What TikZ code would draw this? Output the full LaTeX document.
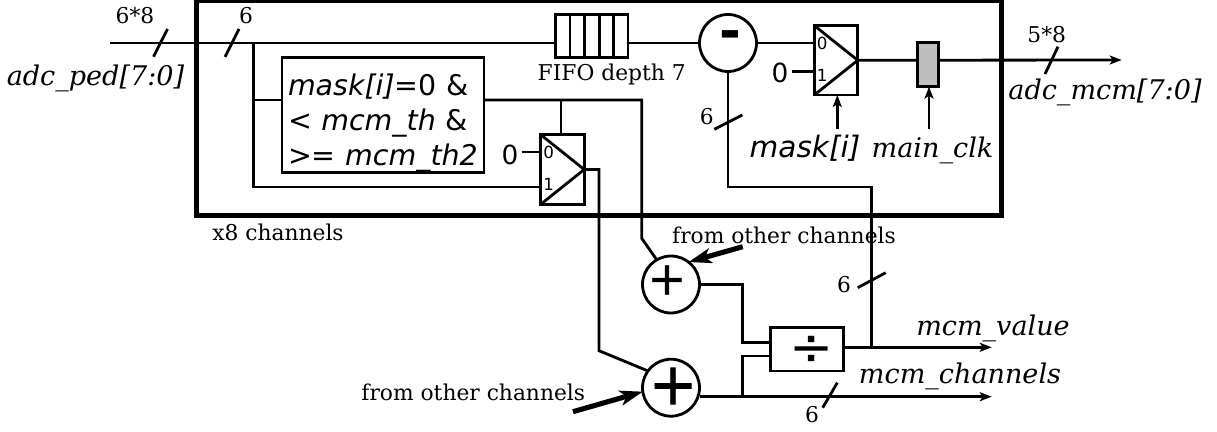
\documentclass[tikz,border=0pt]{standalone}
\usepackage{fontspec}
\setmainfont{DejaVu Serif}
\setsansfont{DejaVu Sans}
\newfontfamily\signfont[FakeBold=1.2]{DejaVu Sans}
\usetikzlibrary{calc,arrows.meta}
\definecolor{regfill}{RGB}{190,190,190}

\tikzset{
  wire/.style={draw=black, line width=1.6pt, line join=miter},
  flow/.style={wire, -{Stealth[length=0.24cm,width=0.18cm,inset=0.06cm]}},
  fatflow/.style={draw=black, line width=2.9pt, -{Stealth[length=0.46cm,width=0.3cm,inset=0.12cm]}},
  tick/.style={draw=black, line width=1.6pt},
  cell/.style={draw=black, line width=1.6pt, fill=white, rectangle, inner sep=0pt, outer sep=0pt},
  opcircle/.style={draw=black, line width=1.6pt, fill=white, circle, inner sep=0pt, outer sep=0pt, minimum size=1.14cm},
  serifnote/.style={inner sep=0pt, font=\fontsize{12.4}{14}\selectfont},
  busname/.style={inner sep=0pt, font=\fontsize{15.4}{17}\selectfont\itshape},
  portmark/.style={inner sep=0pt, font=\sffamily\fontsize{9.5}{10}\selectfont},
  zeromark/.style={inner sep=0pt, font=\sffamily\fontsize{15}{17}\selectfont}
}

\begin{document}
\begin{tikzpicture}[x=0.02cm,y=-0.02cm]

% Each mux is specified as:
% \muxcell{name}{x}{y}
\newcommand{\muxcell}[3]{%
  \node[cell, minimum width=0.87cm, minimum height=1.39cm] (#1) at (#2,#3) {};
  \draw[wire] (#1.north west) -- (#1.east) -- (#1.south west);
  \node[portmark] (#1zero) at ($(#1.west)+(8,-17)$) {0};
  \node[portmark] (#1one) at ($(#1.west)+(8,15)$) {1};
}

% Page size.
\useasboundingbox (0,0) rectangle (1217,432);

% Outer channel frame.
\draw[black, line width=3.4pt] (196.5,0) rectangle (1001.5,215.5);

% Blocks.
\node[cell, minimum width=1.454cm, minimum height=0.86cm] (fifo) at (591.7,35.8) {};
\foreach \v in {1,2,3,4}{
  \draw[wire] ($(fifo.north west)+(14.6*\v,0)$) -- ($(fifo.south west)+(14.6*\v,0)$);
}
\node[opcircle] (sub) at (728,43) {};
\node[inner sep=0pt, font=\sffamily\bfseries\fontsize{30}{30}\selectfont] (subsign) at (730.5,40) {-};
\muxcell{muxa}{836}{60.3}
\muxcell{muxb}{562.5}{169.5}
\node[cell, minimum width=4.04cm, minimum height=2.31cm] (maskbox) at (383,115) {};
\node[inner sep=0pt, align=left, text width=3.8cm, font=\sffamily\fontsize{16.2}{20}\selectfont]
  (masktext) at (383,123)
  {\textit{mask[i]}=0 \&\\< \textit{mcm\_th} \&\\>= \textit{mcm\_th2}};
\node[opcircle] (plusa) at (671,284.5) {};
\node[inner sep=0pt, font=\signfont\fontsize{26}{26}\selectfont] (plusasign) at (667,280) {+};
\node[opcircle] (plusb) at (671,387.7) {};
\node[inner sep=0pt, font=\signfont\fontsize{33}{33}\selectfont] (plusbsign) at (673,386) {+};
\node[cell, minimum width=1.45cm, minimum height=0.87cm] (divbox) at (807,349.3) {};
\node[inner sep=0pt, font=\sffamily\fontsize{30}{30}\selectfont] (divsign) at (811.7,350.7) {÷};

% Free ends.
\coordinate (adcin) at (110,43);
\coordinate (adcout) at (1121.7,60);
\coordinate (valueout) at (991.7,347.3);
\coordinate (channelsout) at (991.7,396.7);
\coordinate (maskarrow) at (837.3,129);
\coordinate (clkarrow) at (929,129);
\coordinate (otherone) at (742.7,246.7);
\coordinate (othertwo) at (573,411.7);

% Data path.
\draw[wire] (adcin) -- (fifo.west |- adcin);
\draw[wire] (fifo.east |- adcin) -- (sub.west |- adcin);
\draw[wire] (sub.east |- adcin) -- (muxa.west |- adcin);
\draw[wire] (253.7,43) -- (253.7,187) -- (muxb.west |- 0,187);
\draw[wire] (253.7,100) -- (maskbox.west |- 0,100);
\draw[wire] (maskbox.east |- 0,100) -- (641.7,100) -- (641.7,238.3) -- (plusa.120);
\draw[wire] (561,100) -- (561,135);
\draw[wire] (muxb.east) -- (599,169.5) -- (599,350.7) -- (plusb.144);
\draw[wire] (sub.south) -- (728,187) -- (871.7,187) -- (871.7,347.3);
\draw[flow] (muxa.east) -- (adcout);
\node[cell, fill=regfill, minimum width=0.41cm, minimum height=0.88cm] (reg) at (928,64.7) {};
\draw[flow] (maskarrow) -- (maskarrow |- muxa.south);
\draw[flow] (clkarrow) -- (clkarrow |- reg.south);
\draw[wire] (plusa.east) -- (742.3,284.5) -- (742.3,342.3) -- (divbox.west |- 0,342.3);
\draw[wire] (742.3,396.7) -- (742.3,356) -- (divbox.west |- 0,356);
\draw[flow] (divbox.east |- valueout) -- (valueout);
\draw[flow] (plusb.east |- channelsout) -- (channelsout);
\draw[fatflow] (otherone) -- (plusa.52);
\draw[fatflow] (othertwo) -- (plusb.188);

% Zero inputs.
\node[zeromark] (zeroa) at (780,73) {0};
\node[zeromark] (zerob) at (510,155) {0};
\draw[wire] (zeroa.east |- 0,71.7) ++(3,0) -- (muxa.west |- 0,71.7);
\draw[wire] (zerob.east |- 0,152) ++(3,0) -- (muxb.west |- 0,152);

% Bus ticks.
\draw[tick] (167.5,29) -- (153.5,56.7);
\draw[tick] (239,29) -- (225,57);
\draw[tick] (742.3,115) -- (714.3,129.3);
\draw[tick] (1058,46.7) -- (1045,74);
\draw[tick] (885.7,272.7) -- (857.7,287.7);
\draw[tick] (837.3,382.7) -- (822.7,407.7);

% Labels.
\node[serifnote] (widthin) at (135,15.7) {6*8};
\node[serifnote] (widthone) at (246,15.7) {6};
\node[serifnote] (widthsub) at (706.7,116.7) {6};
\node[serifnote] (widthout) at (1046.7,35) {5*8};
\node[serifnote] (widthvalue) at (844,285) {6};
\node[serifnote] (widthchannels) at (812,415) {6};
\node[serifnote] (fifolabel) at (611.7,74) {FIFO depth 7};
\node[serifnote] (copies) at (278,232) {x8 channels};
\node[serifnote] (othertop) at (784,235) {from other channels};
\node[serifnote] (otherbottom) at (473.3,392) {from other channels};
\node[busname] (adcped) at (95.5,78) {adc\_ped[7:0]};
\node[busname] (adcmcm) at (1105,92) {adc\_mcm[7:0]};
\node[busname] (mainclk) at (932.5,150) {main\_clk};
\node[busname, font=\sffamily\fontsize{16.8}{18}\selectfont\itshape] (masklabel) at (805,148) {mask[i]};
\node[busname] (mcmvalue) at (993,328) {mcm\_value};
\node[busname] (mcmchannels) at (960,376) {mcm\_channels};

\end{tikzpicture}
\end{document}
